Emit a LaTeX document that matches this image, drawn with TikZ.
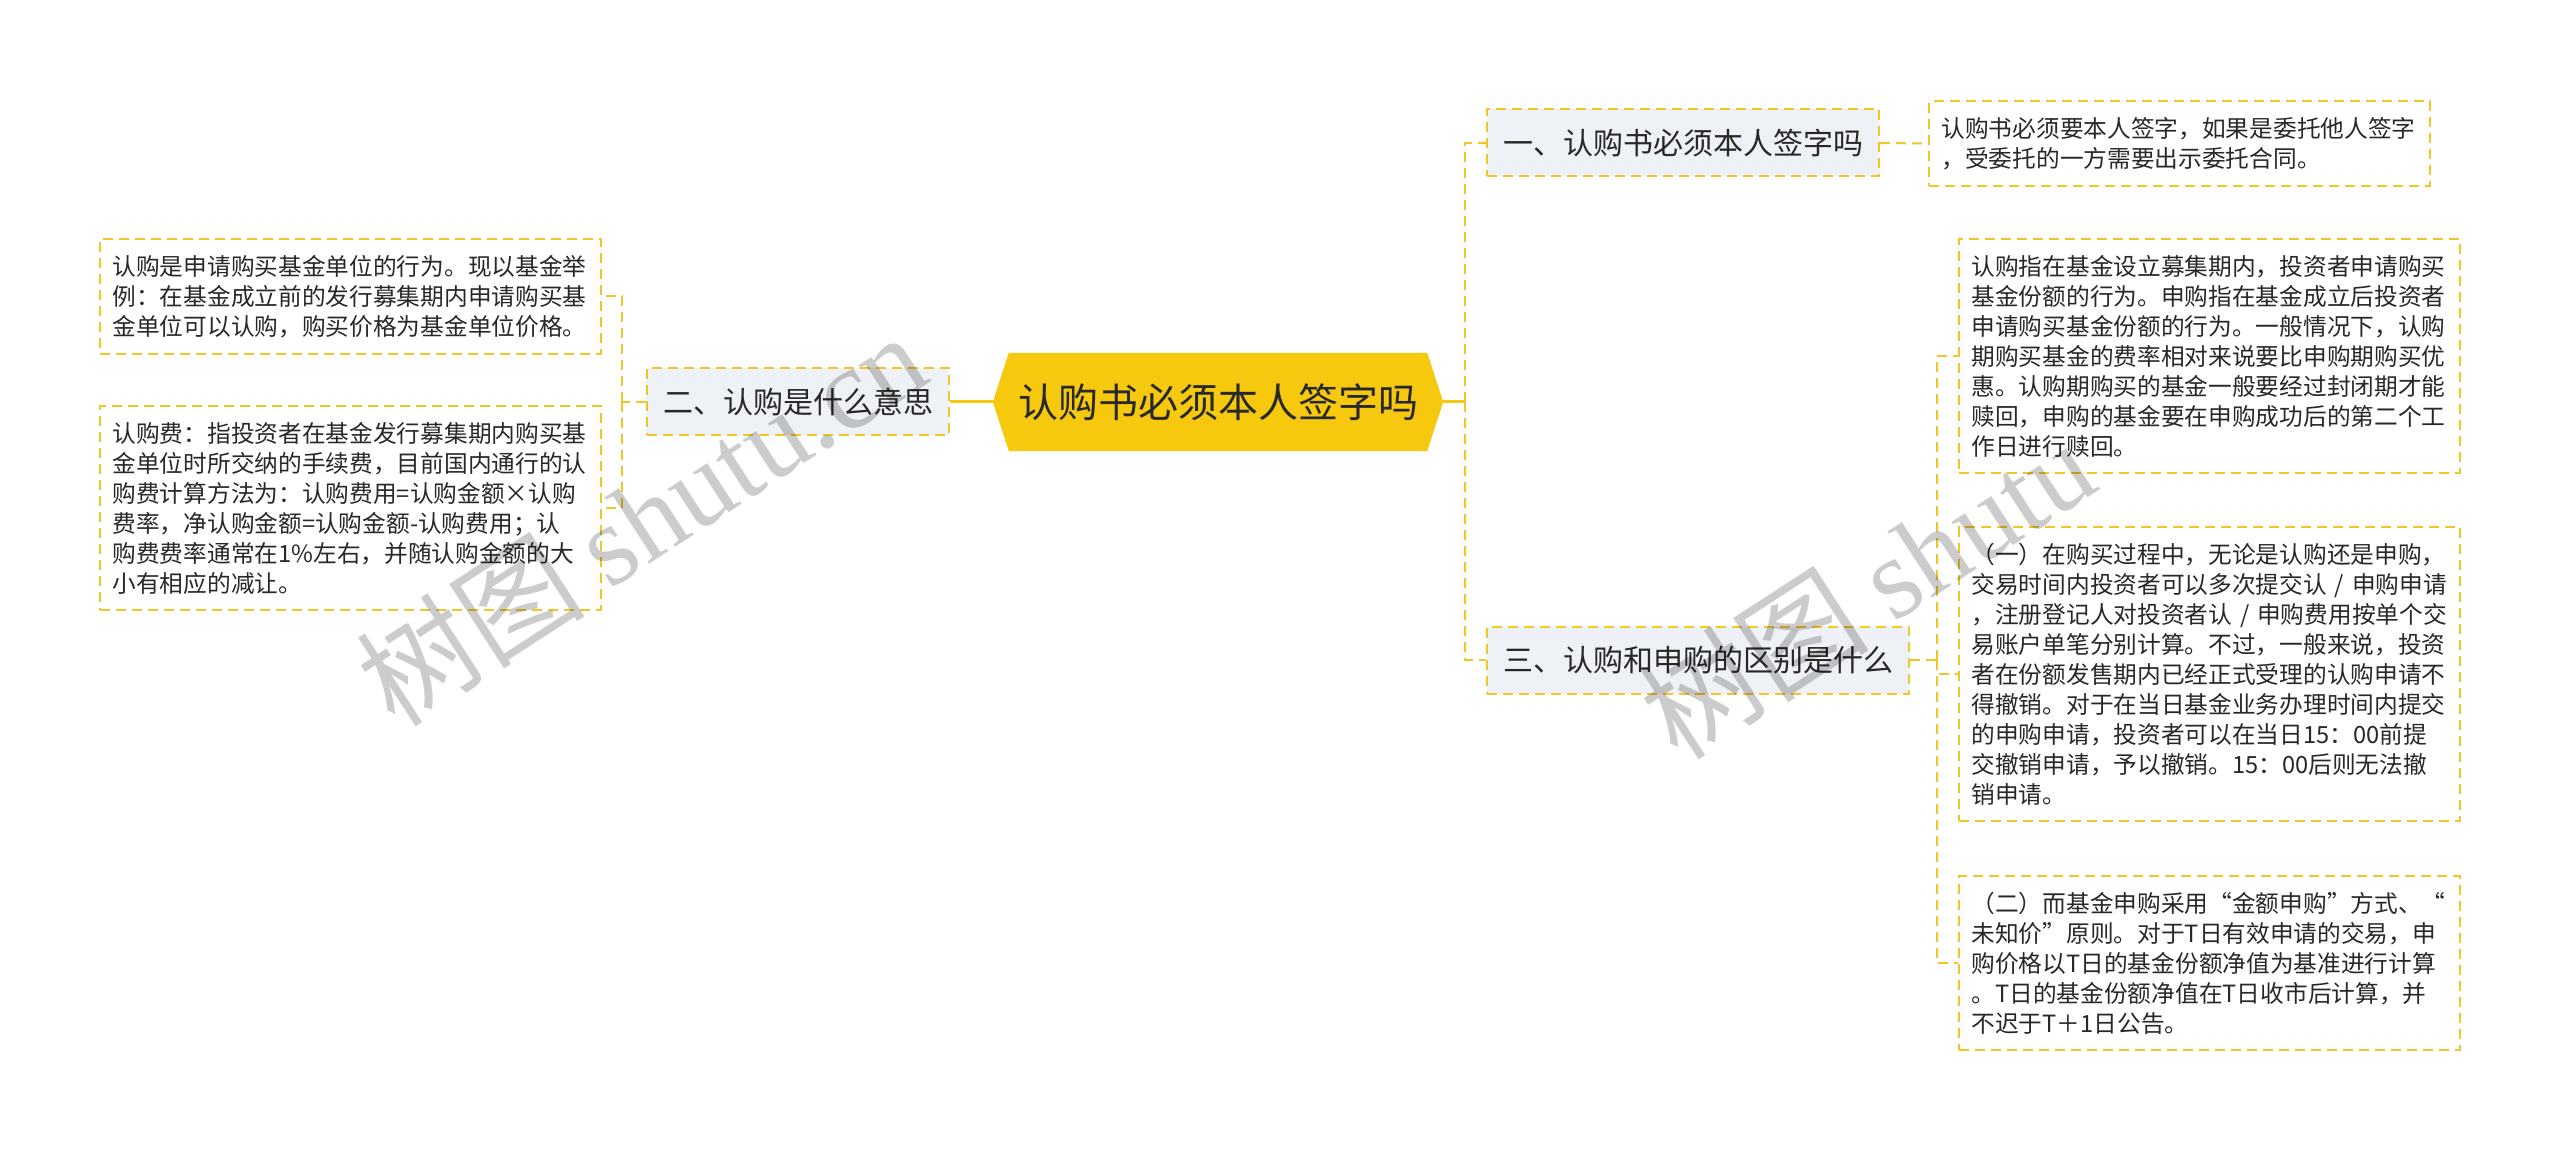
\documentclass[tikz,border=0pt]{standalone}
\usepackage{fontspec}
\setmainfont{Noto Sans CJK SC}
\newfontfamily\wmlatin{Liberation Serif}
\usepackage{tikz}
\usetikzlibrary{positioning,backgrounds}
\usepackage{xcolor}
\definecolor{rootyellow}{RGB}{246,201,14}
\definecolor{lineyellow}{RGB}{240,198,40}
\definecolor{branchgray}{RGB}{238,241,245}
\definecolor{textdark}{RGB}{40,40,40}

\begin{document}
\begin{tikzpicture}[x=1pt,y=-1pt,
  rootbox/.style={minimum width=450pt,minimum height=98pt,inner sep=0pt,font=\fontsize{40}{48}\selectfont,text=textdark},
  branchbox/.style={draw=lineyellow,line width=2pt,dash pattern=on 10pt off 6pt,fill=branchgray,minimum height=67pt,inner xsep=16pt,inner ysep=0pt,font=\fontsize{30}{36}\selectfont,text=textdark},
  leafbox/.style={draw=lineyellow,line width=2pt,dash pattern=on 10pt off 6pt,fill=white,text width=476pt,align=left,inner xsep=12.5pt,inner ysep=16pt,font=\fontsize{23.7}{30}\selectfont,text=textdark},
  trunk/.style={draw=rootyellow,line width=3pt},
  twig/.style={draw=lineyellow,line width=2pt,dash pattern=on 10pt off 6pt},
  watermark/.style={rotate=33,text=black,opacity=0.2,font=\fontsize{115}{115}\selectfont}]
\useasboundingbox (0,0) rectangle (2560,1155);
% Root
\node[rootbox] (root) at (1218,402) {认购书必须本人签字吗};
\begin{scope}[on background layer]
\fill[white] (0,0) rectangle (2560,1155);
\fill[rootyellow] (root.west) -- ([xshift=16pt]root.north west) -- ([xshift=-16pt]root.north east)
  -- (root.east) -- ([xshift=-16pt]root.south east) -- ([xshift=16pt]root.south west) -- cycle;
\end{scope}
% Branches
\node[branchbox,anchor=west] (one) at (1486,143) {一、认购书必须本人签字吗};
\node[branchbox,anchor=east] (two) at (950,402) {二、认购是什么意思};
\node[branchbox,anchor=west] (three) at (1486,660) {三、认购和申购的区别是什么};
% Leaves of one
\node[leafbox,anchor=west] (signleaf) at (1928,143.5) {认购书必须要本人签字，如果是委托他人签字\\，受委托的一方需要出示委托合同。};
% Leaves of two
\node[leafbox,anchor=north east] (meanleaf) at (602,238) {认购是申请购买基金单位的行为。现以基金举\\例：在基金成立前的发行募集期内申请购买基\\金单位可以认购，购买价格为基金单位价格。};
\node[leafbox,anchor=north east] (feeleaf) at (602,405) {认购费：指投资者在基金发行募集期内购买基\\金单位时所交纳的手续费，目前国内通行的认\\购费计算方法为：认购费用=认购金额×认购\\费率，净认购金额=认购金额-认购费用；认\\购费费率通常在1\%左右，并随认购金额的大\\小有相应的减让。};
% Leaves of three
\node[leafbox,anchor=north west] (diffleaf) at (1958,238) {认购指在基金设立募集期内，投资者申请购买\\基金份额的行为。申购指在基金成立后投资者\\申请购买基金份额的行为。一般情况下，认购\\期购买基金的费率相对来说要比申购期购买优\\惠。认购期购买的基金一般要经过封闭期才能\\赎回，申购的基金要在申购成功后的第二个工\\作日进行赎回。};
\node[leafbox,anchor=north west] (cancelleaf) at (1958,526) {（一）在购买过程中，无论是认购还是申购，\\交易时间内投资者可以多次提交认 / 申购申请\\，注册登记人对投资者认 / 申购费用按单个交\\易账户单笔分别计算。不过，一般来说，投资\\者在份额发售期内已经正式受理的认购申请不\\得撤销。对于在当日基金业务办理时间内提交\\的申购申请，投资者可以在当日15：00前提\\交撤销申请，予以撤销。15：00后则无法撤\\销申请。};
\node[leafbox,anchor=north west] (priceleaf) at (1958,875) {（二）而基金申购采用“金额申购”方式、“\\未知价”原则。对于T日有效申请的交易，申\\购价格以T日的基金份额净值为基准进行计算\\。T日的基金份额净值在T日收市后计算，并\\不迟于T＋1日公告。};
% Joints
\coordinate (rjoint) at (1465,402);
\coordinate (ljoint) at (622,402);
\coordinate (tjoint) at (1937,660);
% Connectors
\draw[trunk] (root.west) -- (two.east);
\draw[trunk] (root.east) -- (rjoint);
\draw[twig] (rjoint) |- (one.west);
\draw[twig] (rjoint) |- (three.west);
\draw[twig] (one.east) -- (signleaf.west);
\draw[twig] (two.west) -- (ljoint);
\draw[twig] (ljoint) |- (meanleaf.east);
\draw[twig] (ljoint) |- (feeleaf.east);
\draw[twig] (three.east) -- (tjoint);
\draw[twig] (tjoint) |- (diffleaf.west);
\draw[twig] (tjoint) |- (cancelleaf.west);
\draw[twig] (tjoint) |- (priceleaf.west);
% Watermarks
\node[watermark] (mark1) at (641,518) {树图 {\wmlatin shutu.cn}};
\node[watermark,anchor=west] (mark2) at (1652,728) {树图 {\wmlatin shutu}};
\end{tikzpicture}
\end{document}
